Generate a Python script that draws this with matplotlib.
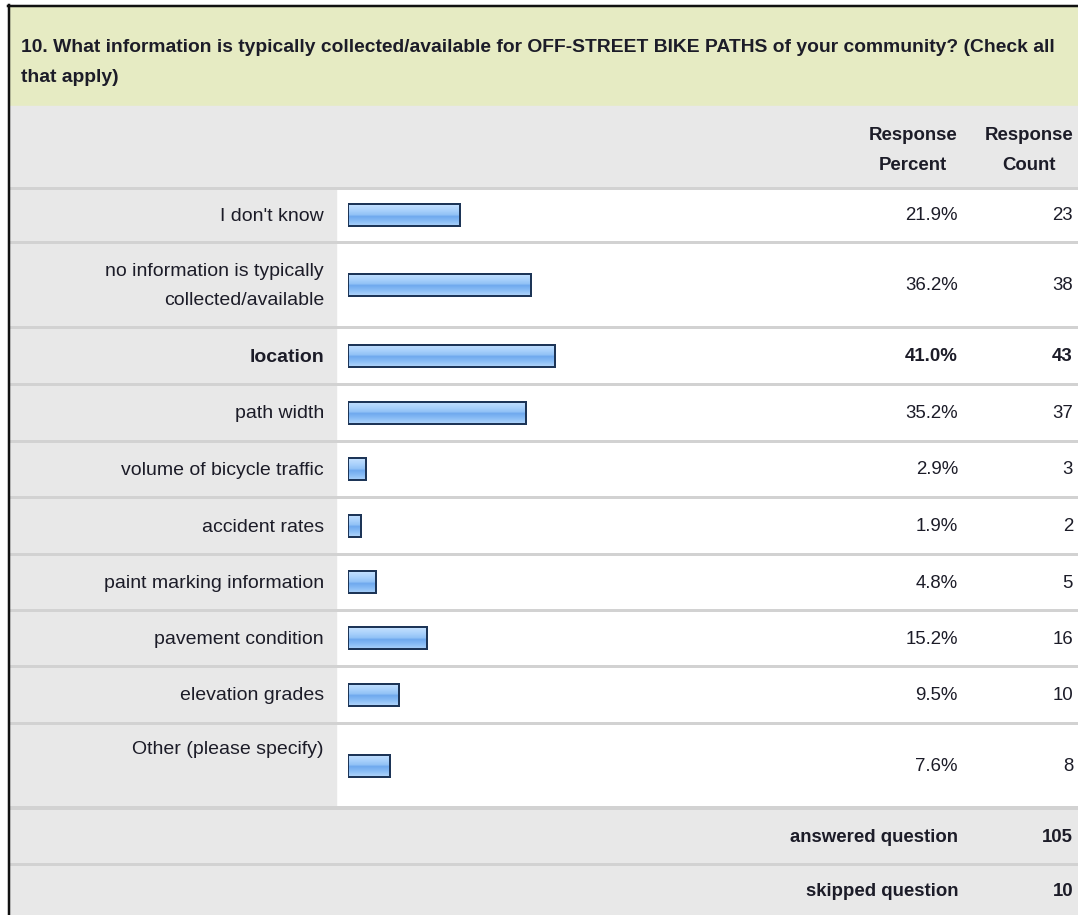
import numpy as np
import matplotlib.pyplot as plt
from matplotlib.colors import LinearSegmentedColormap

plt.rcParams['font.family'] = ['Liberation Sans', 'DejaVu Sans']

question = ("10. What information is typically collected/available for OFF-STREET BIKE PATHS "
            "of your community? (Check all\nthat apply)")
options = ["I don't know", "no information is typically\ncollected/available", "location",
           "path width", "volume of bicycle traffic", "accident rates",
           "paint marking information", "pavement condition", "elevation grades",
           "Other (please specify)"]
percents = [21.9, 36.2, 41.0, 35.2, 2.9, 1.9, 4.8, 15.2, 9.5, 7.6]
counts = [23, 38, 43, 37, 3, 2, 5, 16, 10, 8]
highlight = "location"
answered = 105
skipped = 10

W, H = 1078, 915
TXT = '#1c1c28'
GREEN = '#e6ebc3'
GREY = '#e8e8e8'
RULE = '#d2d2d2'
FS = 13.4
FS_LABEL = 14.0
FS_TITLE = 13.9

# row boundaries (pixels from top)
row_edges = [188, 242, 327, 384, 441, 497, 554, 610, 666, 723, 808]

fig = plt.figure(figsize=(W / 100, H / 100), dpi=100)
ax = fig.add_axes([0, 0, 1, 1])
ax.set_xlim(0, W)
ax.set_ylim(H, 0)
ax.axis('off')

# page background and header bands
ax.add_patch(plt.Rectangle((0, 0), W, H, color='white', zorder=0))
ax.add_patch(plt.Rectangle((9, 6), W, 100, color=GREEN, zorder=1))
ax.add_patch(plt.Rectangle((9, 106), W, 82, color=GREY, zorder=1))
ax.add_patch(plt.Rectangle((9, 188), 327, 620, color=GREY, zorder=1))
ax.add_patch(plt.Rectangle((9, 808), W, H - 808, color=GREY, zorder=1))

ax.text(21, 62, question, fontsize=FS_TITLE, fontweight='bold', color=TXT,
        va='center', ha='left', linespacing=2.0, zorder=3)
ax.text(913, 151, "Response\nPercent", fontsize=FS, fontweight='bold', color=TXT,
        ha='center', va='center', linespacing=2.0, zorder=3)
ax.text(1029, 151, "Response\nCount", fontsize=FS, fontweight='bold', color=TXT,
        ha='center', va='center', linespacing=2.0, zorder=3)

# horizontal rules
for y in row_edges + [864]:
    lw = 4 if y == 808 else 3
    ax.plot([9, W], [y, y], color=RULE, lw=lw * 0.72, solid_capstyle='butt', zorder=2)

# frame on left and top
ax.plot([9, 9], [5, H], color='#111111', lw=2.5 * 0.72, zorder=4)
ax.plot([8, W], [5.5, 5.5], color='#111111', lw=2.5 * 0.72, zorder=4)

centers = [(row_edges[i] + row_edges[i + 1]) / 2 for i in range(len(options))]

for name, pct, cnt, yc in zip(options, percents, counts, centers):
    weight = 'bold' if name == highlight else 'normal'
    ty = yc + 1.5
    if name.startswith("Other"):
        ty = row_edges[-2] + 27
    ax.text(324, ty, name, fontsize=FS_LABEL, fontweight=weight, color=TXT, ha='right',
            va='center', linespacing=1.95, zorder=3)
    ax.text(958, yc + 1, f"{pct:.1f}%", fontsize=FS, fontweight=weight, color=TXT,
            ha='right', va='center', zorder=3)
    ax.text(1073, yc + 1, str(cnt), fontsize=FS, fontweight=weight, color=TXT,
            ha='right', va='center', zorder=3)

ax.text(958, 837, "answered question", fontsize=FS, fontweight='bold', color=TXT,
        ha='right', va='center', zorder=3)
ax.text(1073, 837, str(answered), fontsize=FS, fontweight='bold', color=TXT,
        ha='right', va='center', zorder=3)
ax.text(958, 892, "skipped question", fontsize=FS, fontweight='bold', color=TXT,
        ha='right', va='center', zorder=3)
ax.text(1073, 892, str(skipped), fontsize=FS, fontweight='bold', color=TXT,
        ha='right', va='center', zorder=3)

# bar axes: 0-100 % spans 495 px, with a short stub before zero
PX_PER_PCT = 4.95
STUB = 4 / PX_PER_PCT
bx = fig.add_axes([348 / W, 0, (4 + 100 * PX_PER_PCT) / W, 1])
bx.set_xlim(-STUB, 100)
bx.set_ylim(H, 0)
bx.axis('off')
bx.patch.set_alpha(0)

bar_h = 22
glossy = LinearSegmentedColormap.from_list(
    'glossy', [(0.0, '#c6e2ff'), (0.3, '#a8d0fb'), (0.5, '#90c1f6'),
               (0.56, '#6ea8ee'), (0.8, '#8bbef6'), (1.0, '#acd2fa')])
grad = np.linspace(0, 1, 64).reshape(-1, 1)

widths = [p + STUB for p in percents]
bars = bx.barh(centers, widths, height=bar_h, left=-STUB, color='none',
               edgecolor='#1d3557', linewidth=2 * 0.72, zorder=4)
for rect, pct, yc in zip(bars, percents, centers):
    im = bx.imshow(grad, cmap=glossy, aspect='auto', interpolation='bilinear',
                   extent=(-STUB, pct, yc + bar_h / 2, yc - bar_h / 2), zorder=3)
    im.set_clip_path(rect)
bx.set_xlim(-STUB, 100)
bx.set_ylim(H, 0)

fig.savefig('out.png', dpi=100)
